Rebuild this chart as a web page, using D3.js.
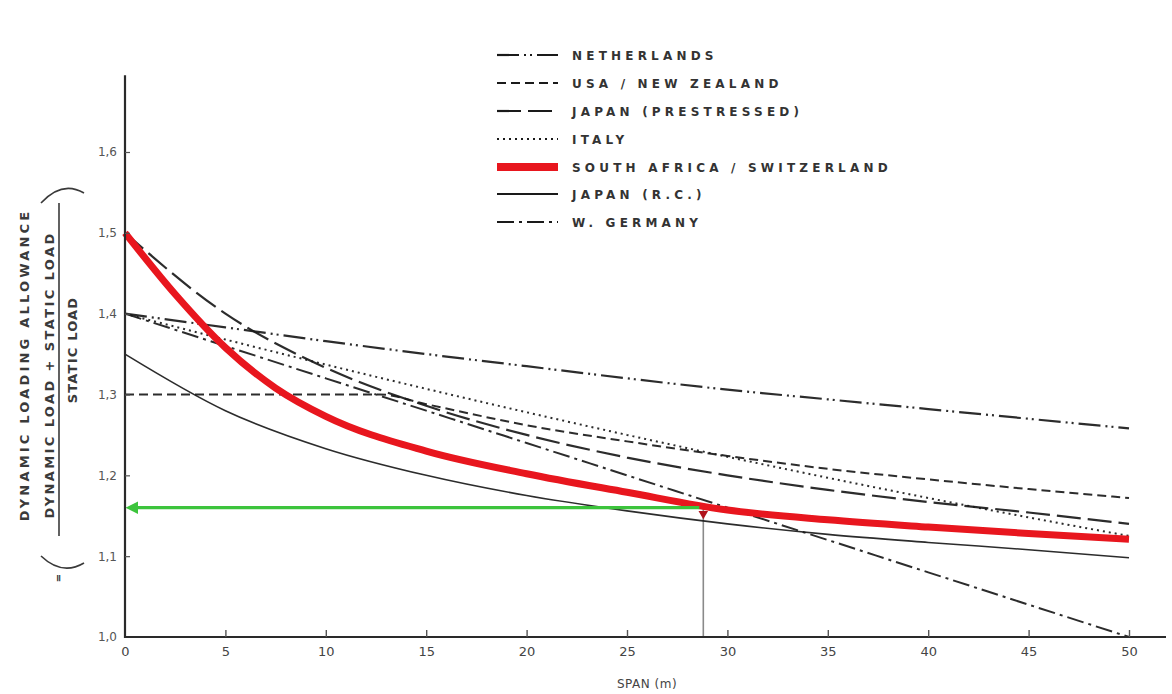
<!DOCTYPE html>
<html>
<head>
<meta charset="utf-8">
<script src="https://cdn.jsdelivr.net/npm/d3@7"></script>
<style>
  html, body { margin: 0; padding: 0; background: #fff; }
  svg { display: block; }
  text { font-family: "DejaVu Sans", "Liberation Sans", sans-serif; }
</style>
</head>
<body>
<svg id="chart" width="1172" height="694"></svg>
<script>
// Span in metres at which each code's impact factor is given
const spans = [0, 5, 10, 15, 20, 25, 30, 35, 40, 45, 50];
const usaSpans = [0, 5, 10, 12.7, 15, 20, 25, 30, 35, 40, 45, 50];
const saSpans = [0, 2.5, 5, 7.5, 10, 15, 20, 25, 30, 35, 40, 45, 50];

// Dynamic loading allowance (dynamic + static) / static, per code
const netherlands = [1.400, 1.383, 1.366, 1.350, 1.335, 1.320, 1.306, 1.294, 1.282, 1.270, 1.258];
const usaNewZealand = [1.300, 1.300, 1.300, 1.300, 1.288, 1.262, 1.242, 1.224, 1.208, 1.195, 1.183, 1.172];
const japanPrestressed = [1.500, 1.400, 1.333, 1.286, 1.250, 1.222, 1.200, 1.182, 1.167, 1.154, 1.140];
const italy = [1.400, 1.368, 1.337, 1.307, 1.278, 1.250, 1.223, 1.197, 1.172, 1.148, 1.125];
const southAfricaSwitzerland = [1.500, 1.424, 1.358, 1.308, 1.273, 1.230, 1.202, 1.179, 1.157, 1.145, 1.136, 1.128, 1.121];
const japanRC = [1.350, 1.280, 1.233, 1.200, 1.175, 1.156, 1.140, 1.127, 1.117, 1.108, 1.098];
const westGermany = [1.400, 1.360, 1.320, 1.280, 1.240, 1.200, 1.160, 1.120, 1.080, 1.040, 1.000];

const designSpan = 28.8;
const designFactor = 1.16;

const xTicks = [0, 5, 10, 15, 20, 25, 30, 35, 40, 45, 50];
const yTicks = [1.0, 1.1, 1.2, 1.3, 1.4, 1.5, 1.6];

const RED = "#e8161e";
const series = [
  { name: "NETHERLANDS", x: spans, y: netherlands, color: "#1a1a1a", width: 2.2, dash: "22,5,2,4,2,5" },
  { name: "USA / NEW ZEALAND", x: usaSpans, y: usaNewZealand, color: "#1a1a1a", width: 2, dash: "9,5" },
  { name: "JAPAN (PRESTRESSED)", x: spans, y: japanPrestressed, color: "#1a1a1a", width: 2.2, dash: "24,7" },
  { name: "ITALY", x: spans, y: italy, color: "#1a1a1a", width: 2, dash: "2,4" },
  { name: "SOUTH AFRICA / SWITZERLAND", x: saSpans, y: southAfricaSwitzerland, color: RED, width: 7, dash: null },
  { name: "JAPAN (R.C.)", x: spans, y: japanRC, color: "#1a1a1a", width: 1.6, dash: null },
  { name: "W. GERMANY", x: spans, y: westGermany, color: "#1a1a1a", width: 2, dash: "17,5,3,5" }
];

const svg = d3.select("#chart");

const x = d3.scaleLinear().domain([0, 50]).range([125, 1129]);
const y = d3.scaleLinear().domain([1.0, 1.6]).range([637, 152]);

const line = d3.line()
  .x(d => x(d[0]))
  .y(d => y(d[1]))
  .curve(d3.curveMonotoneX);

const plot = svg.append("g");
// black lines first, the heavy red curve on top
const order = series.filter(s => s.color !== RED).concat(series.filter(s => s.color === RED));

const defs = svg.append("defs");
defs.append("marker")
  .attr("id", "greenHead")
  .attr("viewBox", "0 0 10 10")
  .attr("refX", 1).attr("refY", 5)
  .attr("markerWidth", 4).attr("markerHeight", 4)
  .attr("orient", "auto-start-reverse")
  .append("path").attr("d", "M0,0 L10,5 L0,10 Z").attr("fill", "#3cc43c");

// vertical drop from the example point to the span axis
plot.append("line")
  .attr("x1", x(designSpan)).attr("x2", x(designSpan))
  .attr("y1", y(designFactor)).attr("y2", y(1.0))
  .attr("stroke", "#8a8a8a").attr("stroke-width", 1.6);

order.forEach(s => {
  plot.append("path")
    .datum(s.x.map((v, i) => [v, s.y[i]]))
    .attr("d", line)
    .attr("fill", "none")
    .attr("stroke", s.color)
    .attr("stroke-width", s.width)
    .attr("stroke-dasharray", s.dash)
    .attr("stroke-linecap", "butt")
    .attr("opacity", s.color === RED ? 1 : 0.92);
});

// green arrow across to the factor axis
plot.append("line")
  .attr("x1", x(designSpan) - 4).attr("x2", x(0) + 12)
  .attr("y1", y(designFactor)).attr("y2", y(designFactor))
  .attr("stroke", "#3cc43c").attr("stroke-width", 3.2)
  .attr("marker-end", "url(#greenHead)");

// small marker at the point
plot.append("path")
  .attr("d", d3.symbol().type(d3.symbolTriangle).size(40)())
  .attr("transform", `translate(${x(designSpan)},${y(designFactor) + 6}) rotate(180)`)
  .attr("fill", "#b0141c");

// Axes
const axisColor = "#2a2a2a";
svg.append("line")
  .attr("x1", x(0)).attr("x2", x(0))
  .attr("y1", y(1.0) + 1).attr("y2", y(1.695))
  .attr("stroke", axisColor).attr("stroke-width", 2.2);
svg.append("line")
  .attr("x1", x(0) - 1).attr("x2", 1166)
  .attr("y1", y(1.0)).attr("y2", y(1.0))
  .attr("stroke", axisColor).attr("stroke-width", 2.2);

const xAxis = svg.append("g").attr("transform", `translate(0,${y(1.0)})`)
  .call(d3.axisBottom(x).tickValues(xTicks).tickSize(0).tickPadding(12).tickFormat(d3.format("d")));
xAxis.select(".domain").remove();
xAxis.selectAll("text").attr("font-size", 13).attr("fill", "#444").attr("dy", "0.55em");
xAxis.selectAll(".tick").filter(d => d > 0).append("line")
  .attr("y1", 0).attr("y2", -7).attr("stroke", "#555").attr("stroke-width", 1.4);

const yAxis = svg.append("g").attr("transform", `translate(${x(0)},0)`)
  .call(d3.axisLeft(y).tickValues(yTicks).tickSize(0).tickPadding(8)
    .tickFormat(d => d3.format(".1f")(d).replace(".", ",")));
yAxis.select(".domain").remove();
yAxis.selectAll("text").attr("font-size", 12).attr("fill", "#555");
yAxis.selectAll(".tick").filter(d => d > 1.0).append("line")
  .attr("x1", 0).attr("x2", 5).attr("stroke", "#555").attr("stroke-width", 1.2);

svg.append("text")
  .attr("x", x(26)).attr("y", 688)
  .attr("text-anchor", "middle")
  .attr("font-size", 12).attr("fill", "#444").attr("letter-spacing", 0.5)
  .text("SPAN (m)");

// Y-axis title: impact factor = (dynamic + static) / static
const yt = svg.append("g").attr("fill", "#3a3a3a").attr("font-weight", "bold");
yt.append("text")
  .attr("transform", "translate(29,365) rotate(-90)")
  .attr("text-anchor", "middle").attr("font-size", 13).attr("letter-spacing", 3.2)
  .text("DYNAMIC LOADING ALLOWANCE");
yt.append("text")
  .attr("transform", "translate(54,375) rotate(-90)")
  .attr("text-anchor", "middle").attr("font-size", 13).attr("letter-spacing", 2.4)
  .text("DYNAMIC LOAD + STATIC LOAD");
yt.append("line")
  .attr("x1", 59).attr("x2", 59).attr("y1", 203).attr("y2", 536)
  .attr("stroke", "#3a3a3a").attr("stroke-width", 1.6);
yt.append("text")
  .attr("transform", "translate(77,350) rotate(-90)")
  .attr("text-anchor", "middle").attr("font-size", 13).attr("letter-spacing", 1.2)
  .text("STATIC LOAD");
// rotated brackets around the fraction and the equals sign below
yt.append("path").attr("d", "M41,203 Q62,180 84,193")
  .attr("fill", "none").attr("stroke", "#3a3a3a").attr("stroke-width", 1.6);
yt.append("path").attr("d", "M41,556 Q62,576 84,563")
  .attr("fill", "none").attr("stroke", "#3a3a3a").attr("stroke-width", 1.6);
yt.append("text")
  .attr("transform", "translate(62,578) rotate(-90)")
  .attr("text-anchor", "middle").attr("font-size", 10)
  .text("=");

// Legend
const legend = svg.append("g");
const legendRows = [55, 83, 111, 139, 167, 194, 222];
series.forEach((s, i) => {
  const g = legend.append("g").attr("transform", `translate(0,${legendRows[i]})`);
  g.append("line")
    .attr("x1", 497).attr("x2", 558).attr("y1", 0).attr("y2", 0)
    .attr("stroke", s.color)
    .attr("stroke-width", s.color === RED ? 8 : Math.max(2, s.width))
    .attr("stroke-dasharray", s.dash);
  g.append("text")
    .attr("x", 572).attr("y", 5)
    .attr("font-size", 12).attr("font-weight", "bold")
    .attr("letter-spacing", 4.2).attr("fill", "#333")
    .text(s.name);
});
</script>
</body>
</html>
